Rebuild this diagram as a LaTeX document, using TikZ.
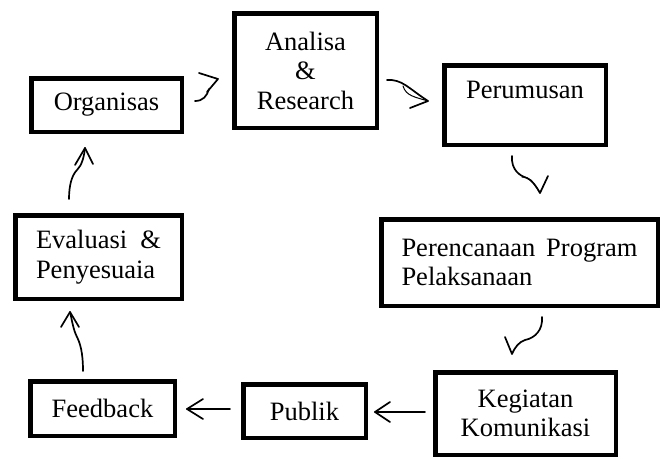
\documentclass[tikz,border=0pt]{standalone}
\usepackage{fontspec}
\setmainfont{Liberation Serif}
\begin{document}
\begin{tikzpicture}[x=1pt,y=-1pt,
  box/.style={draw, line width=4.5pt, inner sep=0pt, align=center, font=\fontsize{26.5}{29.5}\selectfont},
  conn/.style={line width=1.7pt, line cap=round, line join=round}]
\useasboundingbox (0,0) rectangle (664,459);
% boxes
\node[box, minimum width=150.5pt, minimum height=53.5pt] (org) at (106.5,105) {Organisas};
\node[box, minimum width=142.5pt, minimum height=114.5pt] (ana) at (305.5,70.5) {Analisa\\\&\\Research};
\node[box, minimum width=161.5pt, minimum height=79.5pt] (per) at (525,105) {Perumusan\\\mbox{}};
\node[box, align=left, minimum width=276.5pt, minimum height=86.5pt] (pp) at (519.5,262.5)
  {\hbox to 236pt{Perencanaan\hfill Program}\\Pelaksanaan};
\node[box, minimum width=180.5pt, minimum height=82.5pt] (keg) at (525.5,413.5) {Kegiatan\\Komunikasi};
\node[box, minimum width=122.5pt, minimum height=53.5pt] (pub) at (304.5,411) {Publik};
\node[box, minimum width=144.5pt, minimum height=54.5pt] (fb) at (102.5,408.5) {Feedback};
\node[box, align=left, minimum width=166.5pt, minimum height=83.5pt] (ev) at (98.5,257)
  {\hbox to 125pt{Evaluasi\hfill\&}\\Penyesuaia};
% arrow end points
\coordinate (oaS) at (195,101); \coordinate (oaT) at (218,79);
\coordinate (apS) at (387,80);  \coordinate (apT) at (428,101);
\coordinate (ppS) at (512,156); \coordinate (ppT) at (540,193);
\coordinate (pkS) at (542,317); \coordinate (pkT) at (512,354);
\coordinate (kpS) at (425,412); \coordinate (kpT) at (375,412);
\coordinate (pfS) at (230,409); \coordinate (pfT) at (187,409);
\coordinate (feS) at (83,371);  \coordinate (feT) at (70,312);
\coordinate (eoS) at (69,199);  \coordinate (eoT) at (85,148);
% connectors
\draw[conn] (199,73) -- (oaT) -- (207,92);
\draw[conn] (oaS) .. controls (203,101) and (207,96) .. (209,89);
\draw[conn] (apS) .. controls (402,79) and (408,88) .. (apT) -- (410,108);
\draw[conn, line width=1pt] (403,86) .. controls (406,96) and (415,97) .. (apT);
\draw[conn] (ppS) .. controls (511,170) and (520,176) .. (527,178) .. controls (532,180) and (536,186) .. (ppT) -- (548,176);
\draw[conn, line width=1pt] (522,177) .. controls (530,176) and (537,188) .. (ppT);
\draw[conn] (pkS) .. controls (543,330) and (535,338) .. (525,340) .. controls (519,342) and (515,347) .. (pkT) -- (505,337);
\draw[conn] (kpS) -- (kpT);
\draw[conn] (390,402) -- (kpT) -- (390,422);
\draw[conn] (pfS) -- (pfT);
\draw[conn] (203,399) -- (pfT) -- (203,419);
\draw[conn] (feS) .. controls (83,352) and (80,343) .. (77,337) .. controls (73,329) and (72,320) .. (feT);
\draw[conn] (61,327) -- (feT) -- (79,327);
\draw[conn] (eoS) .. controls (69,185) and (72,175) .. (77,170) .. controls (82,165) and (84,157) .. (eoT);
\draw[conn] (75,165) -- (eoT) -- (93,164);
\end{tikzpicture}
\end{document}
